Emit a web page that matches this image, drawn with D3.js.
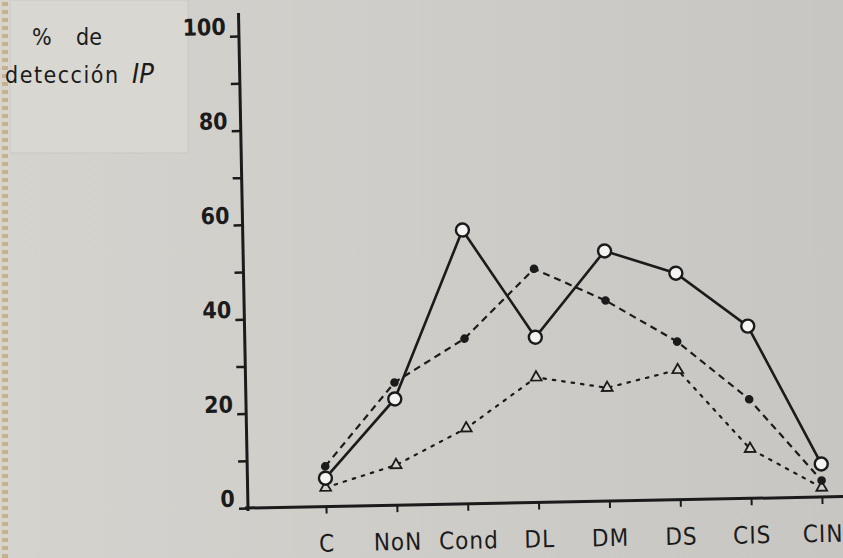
<!DOCTYPE html>
<html>
<head>
<meta charset="utf-8">
<script src="https://cdn.jsdelivr.net/npm/d3@7"></script>
<style>
  html, body { margin: 0; padding: 0; background: #cfcdc8; }
  svg { display: block; }
</style>
</head>
<body>
<div id="chart"></div>
<script>
const categories = ['C', 'NoN', 'Cond', 'DL', 'DM', 'DS', 'CIS', 'CIN']
const solidVals = [6, 22.5, 58, 35, 53, 48, 36.5, 7]
const dashedVals = [8.5, 26, 35, 49.5, 42.5, 33.5, 21, 3.5]
const dottedVals = [4, 8.5, 16, 26.5, 24, 27.5, 10.5, 2]
const yTicks = [0, 10, 20, 30, 40, 50, 60, 70, 80, 90, 100]
const yLabels = [0, 20, 40, 60, 80, 100]

const W = 843, H = 558
const ink = '#1b1b1b'
const narrow = "'DejaVu Sans Condensed', 'Liberation Sans Narrow', 'DejaVu Sans', sans-serif"

const svg = d3.select('#chart').append('svg')
    .attr('width', W)
    .attr('height', H)

// paper
const grad = svg.append('defs').append('linearGradient')
    .attr('id', 'paper')
    .attr('x1', '0%').attr('x2', '100%')
grad.append('stop').attr('offset', '0%').attr('stop-color', '#d5d3ce')
grad.append('stop').attr('offset', '100%').attr('stop-color', '#c8c6c2')

svg.append('rect')
    .attr('width', W)
    .attr('height', H)
    .attr('fill', 'url(#paper)')

// pasted label card, top left
svg.append('rect')
    .attr('x', 10).attr('y', 0)
    .attr('width', 178).attr('height', 153)
    .attr('fill', '#d9d7d2')
    .attr('stroke', '#c9c7c2')
    .attr('stroke-width', 1)

// perforated edge on the left
svg.append('rect')
    .attr('x', 0).attr('y', 0)
    .attr('width', 10).attr('height', H)
    .attr('fill', '#d8d4cb')
svg.selectAll('rect.perf')
    .data(d3.range(0, H, 8))
    .join('rect')
    .attr('class', 'perf')
    .attr('x', 2)
    .attr('y', d => d + 2)
    .attr('width', 6)
    .attr('height', 4)
    .attr('fill', '#bba476')
    .attr('opacity', 0.7)

// y title
const title = svg.append('g')
    .attr('fill', ink)
    .attr('font-family', narrow)
    .attr('font-size', '23px')
title.append('text').attr('x', 32).attr('y', 45).text('%')
title.append('text').attr('x', 76).attr('y', 45).text('de')
title.append('text').attr('x', 5).attr('y', 83)
    .attr('letter-spacing', '1.5px')
    .text('detección')
title.append('text').attr('x', 132).attr('y', 83)
    .attr('font-style', 'italic')
    .attr('font-size', '27px')
    .text('IP')

// chart frame: photographed slightly rotated
const g = svg.append('g')
    .attr('transform', 'translate(248,508) rotate(-1.1)')

const x = d3.scalePoint().domain(categories).range([78, 574])
const y = d3.scaleLinear().domain([0, 100]).range([0, -472])

// axis lines
g.append('line')
    .attr('x1', 0).attr('x2', 0)
    .attr('y1', 3).attr('y2', -495)
    .attr('stroke', ink).attr('stroke-width', 3)
g.append('line')
    .attr('x1', -3).attr('x2', 640)
    .attr('y1', 0).attr('y2', 0)
    .attr('stroke', ink).attr('stroke-width', 3)

// y axis
const yAxis = g.append('g')
    .call(d3.axisLeft(y)
        .tickValues(yTicks)
        .tickSize(9)
        .tickSizeOuter(0)
        .tickFormat(d => yLabels.includes(d) ? d : ''))
yAxis.select('.domain').remove()
yAxis.selectAll('line').attr('stroke', ink).attr('stroke-width', 2.5)
yAxis.selectAll('text')
    .attr('x', -13)
    .attr('dy', '-2')
    .attr('fill', ink)
    .attr('font-family', narrow)
    .attr('font-weight', 'bold')
    .attr('font-size', '23px')

// x axis
const xAxis = g.append('g')
    .call(d3.axisBottom(x).tickSize(7).tickSizeOuter(0))
xAxis.select('.domain').remove()
xAxis.selectAll('line').attr('stroke', ink).attr('stroke-width', 2)
xAxis.selectAll('text')
    .attr('y', 45)
    .attr('dy', '0')
    .attr('fill', ink)
    .attr('font-family', narrow)
    .attr('font-size', '24px')
    .attr('letter-spacing', '1px')

const line = d3.line()
    .x((d, i) => x(categories[i]))
    .y(d => y(d))

// dotted series with open triangles
g.append('path')
    .attr('d', line(dottedVals))
    .attr('fill', 'none')
    .attr('stroke', ink)
    .attr('stroke-width', 2.2)
    .attr('stroke-dasharray', '2.5 7')
    .attr('stroke-linecap', 'round')

// dashed series with filled dots
g.append('path')
    .attr('d', line(dashedVals))
    .attr('fill', 'none')
    .attr('stroke', ink)
    .attr('stroke-width', 2.2)
    .attr('stroke-dasharray', '7 5')

// solid series with open circles
g.append('path')
    .attr('d', line(solidVals))
    .attr('fill', 'none')
    .attr('stroke', ink)
    .attr('stroke-width', 2.6)

const tri = d3.symbol().type(d3.symbolTriangle).size(50)
g.selectAll('path.tri')
    .data(dottedVals)
    .join('path')
    .attr('class', 'tri')
    .attr('d', tri)
    .attr('transform', (d, i) => `translate(${x(categories[i])},${y(d)})`)
    .attr('fill', '#d2d0cb')
    .attr('stroke', ink)
    .attr('stroke-width', 1.8)

g.selectAll('circle.dot')
    .data(dashedVals)
    .join('circle')
    .attr('class', 'dot')
    .attr('cx', (d, i) => x(categories[i]))
    .attr('cy', d => y(d))
    .attr('r', 4.3)
    .attr('fill', ink)

g.selectAll('circle.ring')
    .data(solidVals)
    .join('circle')
    .attr('class', 'ring')
    .attr('cx', (d, i) => x(categories[i]))
    .attr('cy', d => y(d))
    .attr('r', 6.5)
    .attr('fill', '#f4f4f2')
    .attr('stroke', ink)
    .attr('stroke-width', 2.4)
</script>
</body>
</html>
